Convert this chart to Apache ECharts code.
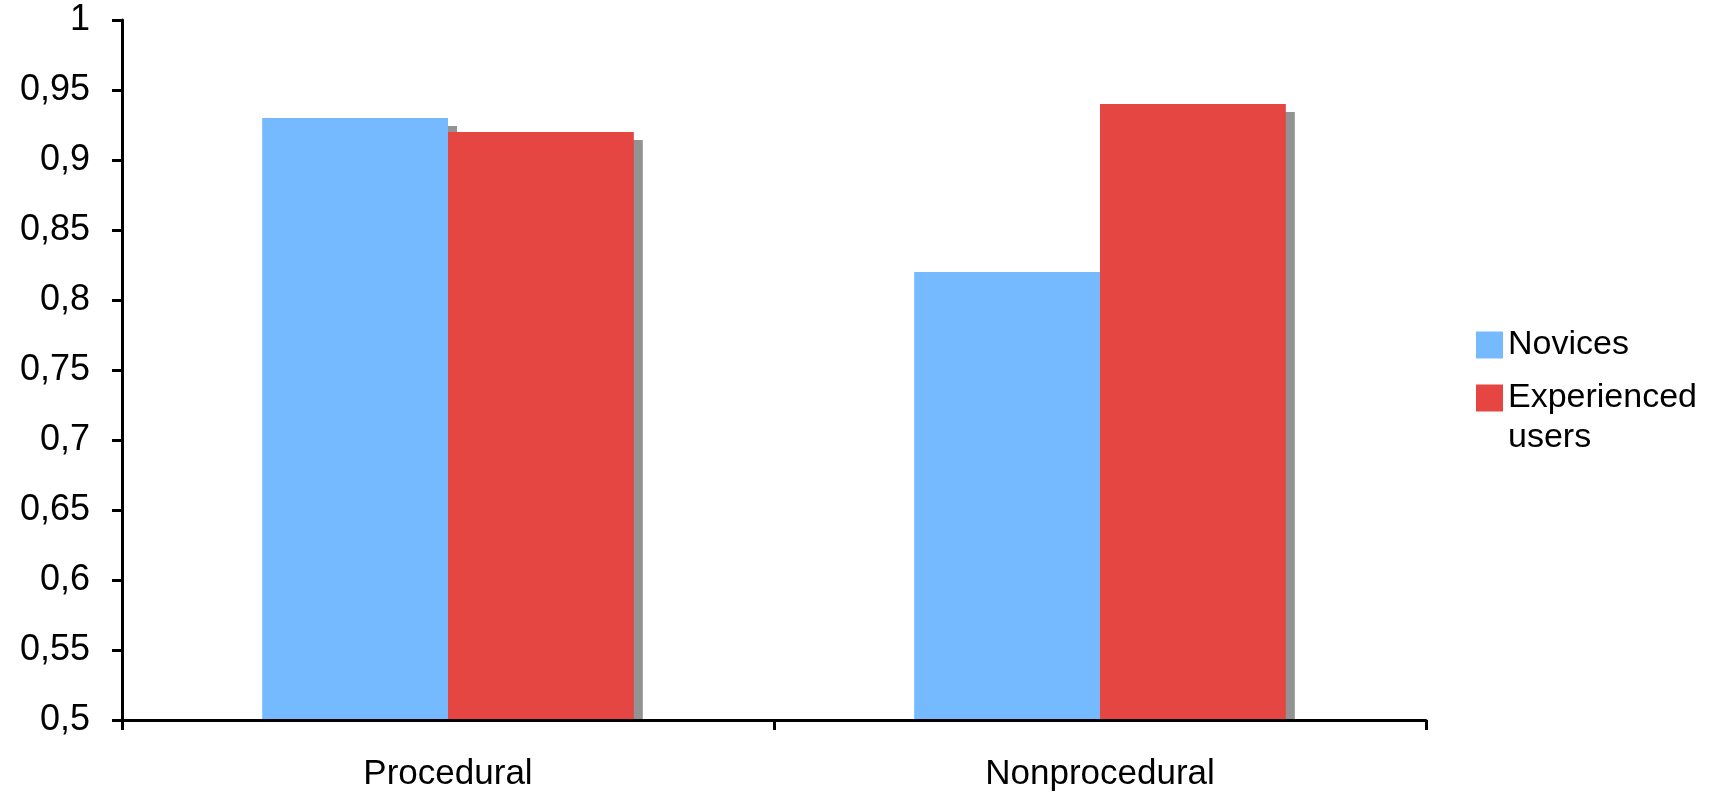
<!DOCTYPE html>
<html>
<head>
<meta charset="utf-8">
<script src="https://cdn.jsdelivr.net/npm/echarts@6/dist/echarts.min.js"></script>
<style>
html,body{margin:0;padding:0;background:#fff;}
#chart{width:1710px;height:793px;}
</style>
</head>
<body>
<div id="chart"></div>
<script>
const categories = ['Procedural', 'Nonprocedural'];
const seriesNames = ['Novices', 'Experienced\nusers'];
const novices = [0.93, 0.82];
const experienced = [0.92, 0.94];
const yTickLabels = ['0,5', '0,55', '0,6', '0,65', '0,7', '0,75', '0,8', '0,85', '0,9', '0,95', '1'];
const yMin = 0.5, yMax = 1, yStep = 0.05;

const FONT = '"Liberation Sans", Arial, sans-serif';
const BLUE = '#75B9FE';
const RED = '#E54641';
const SHADOW = '#939393';
const CAT_GAP = 0.43;

const shadowData = [];
[novices, experienced].forEach((arr, s) => arr.forEach((v, i) => shadowData.push([i, v, s])));

const chart = echarts.init(document.getElementById('chart'), null, {renderer: 'canvas'});
chart.setOption({
  animation: false,
  backgroundColor: '#fff',
  grid: {left: 122, right: 284, top: 20, bottom: 73},
  legend: [{
    data: [seriesNames[0]],
    orient: 'vertical', left: 1471, top: 320,
    itemWidth: 27, itemHeight: 27, icon: 'rect',
    textStyle: {fontFamily: FONT, fontSize: 34, color: '#000', lineHeight: 40}
  }, {
    data: [seriesNames[1]],
    orient: 'vertical', left: 1471, top: 333,
    itemWidth: 27, itemHeight: 27, icon: 'rect',
    formatter: name => '\n' + name,
    textStyle: {fontFamily: FONT, fontSize: 34, color: '#000', lineHeight: 40}
  }],
  xAxis: {
    type: 'category', data: categories, z: 5,
    axisLine: {lineStyle: {color: '#000', width: 3}},
    axisTick: {show: true, alignWithLabel: false, length: 10, lineStyle: {color: '#000', width: 3}},
    axisLabel: {fontFamily: FONT, fontSize: 35, color: '#000', margin: 37}
  },
  yAxis: {
    type: 'value', min: yMin, max: yMax, interval: yStep, z: 5,
    splitLine: {show: false},
    axisLine: {show: true, lineStyle: {color: '#000', width: 3}},
    axisTick: {show: true, length: 10, lineStyle: {color: '#000', width: 3}},
    axisLabel: {fontFamily: FONT, fontSize: 36, color: '#000', margin: 32, padding: [5, 0, 0, 0],
      formatter: (v, idx) => yTickLabels[idx]}
  },
  series: [{
    type: 'custom', name: 'shadow', z: 1, clip: true, silent: true,
    data: shadowData,
    renderItem: (params, api) => {
      const ci = api.value(0), v = api.value(1), s = api.value(2);
      const bandW = api.size([1, 0])[0];
      const barW = bandW * (1 - CAT_GAP) / 2;
      const top = api.coord([ci, v]);
      const base = api.coord([ci, yMin]);
      return {
        type: 'rect',
        shape: {x: top[0] - barW + s * barW + 9, y: top[1] + 8, width: barW, height: base[1] - top[1]},
        style: {fill: SHADOW}
      };
    }
  }, {
    type: 'bar', name: seriesNames[0], data: novices, z: 2,
    barCategoryGap: '43%', barGap: '0%',
    itemStyle: {color: BLUE}
  }, {
    type: 'bar', name: seriesNames[1], data: experienced, z: 2,
    barCategoryGap: '43%', barGap: '0%',
    itemStyle: {color: RED}
  }]
});
</script>
</body>
</html>
